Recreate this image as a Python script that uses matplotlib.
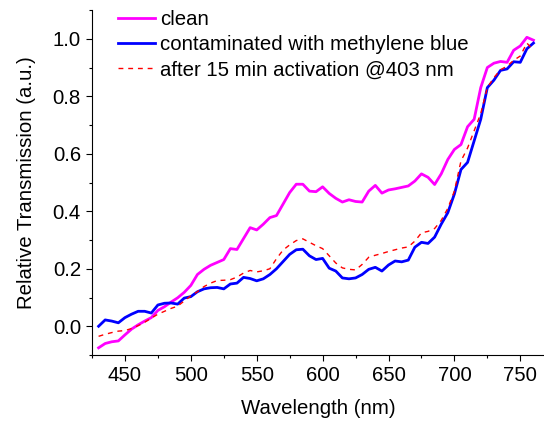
import numpy as np
import matplotlib.pyplot as plt
from matplotlib.ticker import MultipleLocator

plt.rcParams['font.family'] = ['Liberation Sans', 'DejaVu Sans']

# wavelength grid (nm)
wavelength = np.arange(430, 761, 5)

clean = [-0.075, -0.060, -0.054, -0.051, -0.030, -0.010, 0.005, 0.018, 0.030, 0.055,
         0.068, 0.084, 0.099, 0.118, 0.142, 0.180, 0.198, 0.212, 0.222, 0.232,
         0.270, 0.267, 0.305, 0.343, 0.335, 0.355, 0.378, 0.385, 0.425, 0.465,
         0.494, 0.494, 0.470, 0.468, 0.485, 0.462, 0.445, 0.432, 0.440, 0.434,
         0.432, 0.470, 0.490, 0.463, 0.474, 0.478, 0.483, 0.488, 0.505, 0.530,
         0.518, 0.493, 0.530, 0.580, 0.615, 0.632, 0.694, 0.720, 0.830, 0.900,
         0.915, 0.921, 0.918, 0.960, 0.975, 1.005, 0.995]

contaminated = [0.000, 0.022, 0.018, 0.012, 0.030, 0.042, 0.052, 0.052, 0.046, 0.074,
                0.080, 0.081, 0.077, 0.098, 0.103, 0.120, 0.130, 0.134, 0.135, 0.130,
                0.147, 0.150, 0.170, 0.166, 0.158, 0.165, 0.180, 0.200, 0.225, 0.250,
                0.266, 0.268, 0.245, 0.232, 0.236, 0.202, 0.192, 0.168, 0.165, 0.168,
                0.180, 0.198, 0.205, 0.192, 0.213, 0.227, 0.224, 0.230, 0.275, 0.292,
                0.288, 0.310, 0.355, 0.395, 0.460, 0.545, 0.570, 0.645, 0.720, 0.830,
                0.856, 0.890, 0.895, 0.920, 0.918, 0.965, 0.985]

activated = [-0.035, -0.028, -0.022, -0.017, -0.015, -0.008, 0.002, 0.014, 0.028, 0.042,
             0.052, 0.062, 0.070, 0.088, 0.106, 0.120, 0.138, 0.150, 0.159, 0.160,
             0.162, 0.171, 0.185, 0.194, 0.189, 0.193, 0.200, 0.235, 0.265, 0.283,
             0.298, 0.304, 0.292, 0.280, 0.270, 0.245, 0.220, 0.203, 0.198, 0.196,
             0.215, 0.240, 0.247, 0.253, 0.260, 0.266, 0.272, 0.276, 0.296, 0.325,
             0.330, 0.340, 0.368, 0.410, 0.470, 0.575, 0.620, 0.680, 0.740, 0.830,
             0.865, 0.892, 0.905, 0.925, 0.940, 0.985, 0.960]

fig = plt.figure(figsize=(5.44, 4.21), dpi=100)
ax = fig.add_axes([92/544, 1 - 355/421, 452/544, 345/421])

ax.plot(wavelength, clean, color='#FF00FF', lw=2, label='clean')
ax.plot(wavelength, contaminated, color='#0000FF', lw=2, label='contaminated with methylene blue')
ax.plot(wavelength, activated, color='#FF0000', lw=1, dashes=(3.5, 3.5),
        label='after 15 min activation @403 nm')

ax.set_xlim(425, 768)
ax.set_ylim(-0.1, 1.1)
ax.xaxis.set_major_locator(MultipleLocator(50))
ax.xaxis.set_minor_locator(MultipleLocator(25))
ax.yaxis.set_major_locator(MultipleLocator(0.2))
ax.yaxis.set_minor_locator(MultipleLocator(0.1))
ax.yaxis.set_major_formatter(plt.FormatStrFormatter('%.1f'))

for side in ['top', 'right']:
    ax.spines[side].set_visible(False)
for side in ['left', 'bottom']:
    ax.spines[side].set_linewidth(0.8)

fs = 14.7
ax.tick_params(which='major', direction='out', length=4, width=0.8, labelsize=fs, pad=4)
ax.tick_params(which='minor', direction='out', length=2.5, width=0.8)

ax.set_xlabel('Wavelength (nm)', fontsize=fs, labelpad=10)
ax.set_ylabel('Relative Transmission (a.u.)', fontsize=fs, labelpad=12)

ax.legend(loc='upper left', bbox_to_anchor=(0.0575, 1.0), frameon=False,
          fontsize=fs, borderpad=0, borderaxespad=0, handlelength=1.8,
          handletextpad=0.25, labelspacing=0.3)

fig.savefig('out.png', dpi=100)
